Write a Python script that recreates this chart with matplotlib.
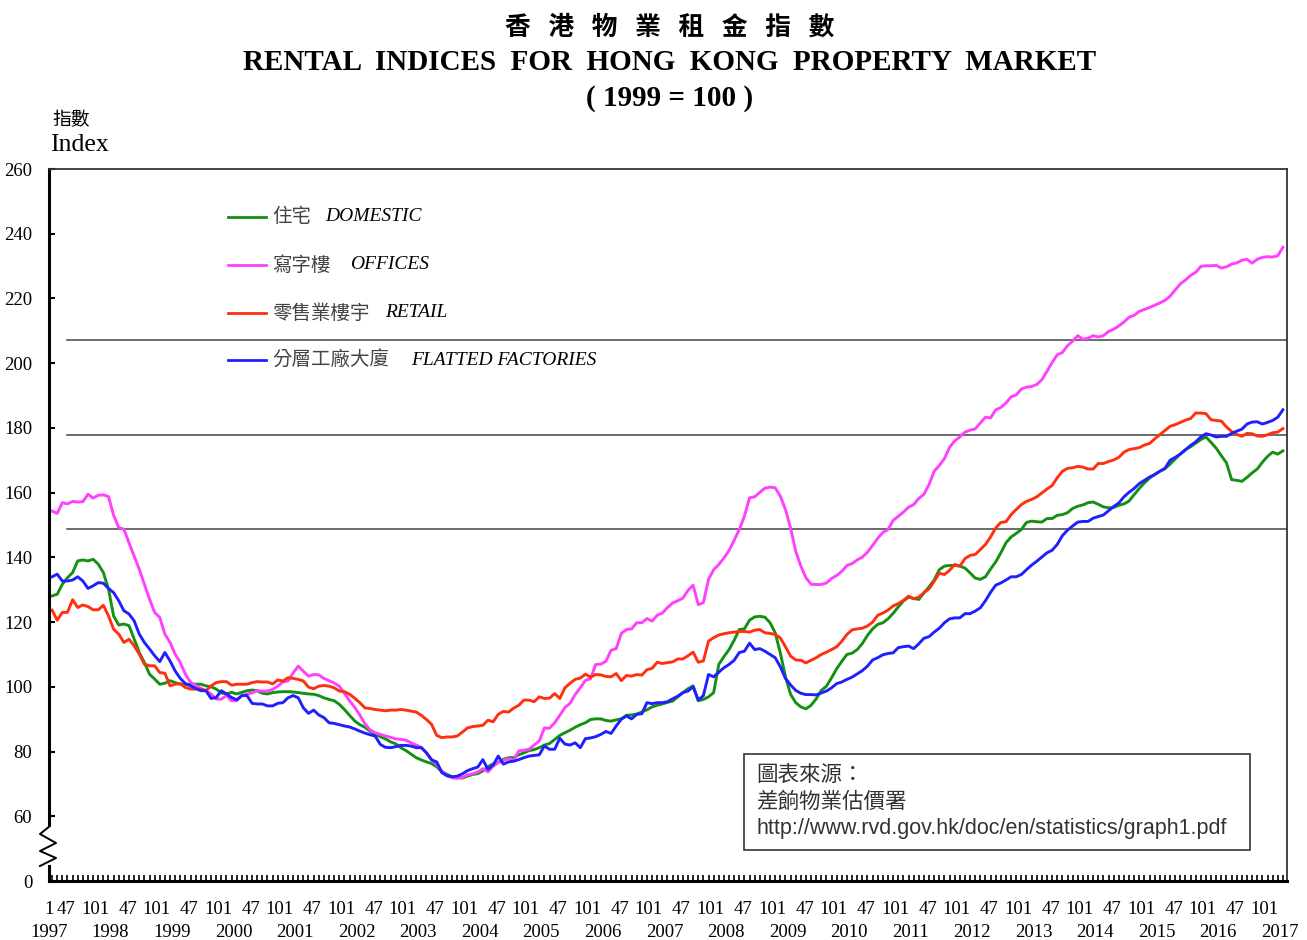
import numpy as np
import matplotlib.pyplot as plt
from matplotlib.lines import Line2D
from matplotlib.patches import Rectangle

plt.rcParams['font.family'] = ['Liberation Serif', 'Noto Sans CJK TC']

# monthly rental indices, Jan 1997 - Jan 2017 (1999 = 100)
domestic = [128.1, 128.6, 131.7, 133.7, 135.3, 138.9, 139.2, 138.9, 139.4, 137.9, 135.3, 130.2,
            121.9, 119.1, 119.4, 118.9, 114.8, 110.6, 107.5, 103.9, 102.4, 100.8, 101.1, 101.9,
            101.3, 100.8, 100.8, 100.8, 100.8, 100.8, 100.3, 100.0, 99.3, 98.1, 97.8, 98.3,
            97.8, 98.3, 98.8, 99.0, 98.8,
            98.0, 97.8, 98.2, 98.4, 98.5, 98.5, 98.4, 98.2, 98.0, 97.8, 97.7, 97.3, 96.6, 96.1, 95.7,
            94.6, 93.0, 91.2, 89.5, 88.3, 87.5, 86.3, 85.4, 84.6, 83.9, 83.0, 82.4, 81.2, 80.3, 79.2,
            78.1, 77.4, 76.8, 76.3, 75.3, 73.7, 73.0,
            72.2, 72.0, 71.8, 72.4, 72.9, 73.2, 74.0, 75.3, 76.2, 76.6, 77.6, 78.1, 78.1, 79.0, 79.6,
            80.3, 80.6, 81.2, 82.0, 82.5, 83.7, 85.0, 85.8, 86.6, 87.5, 88.3, 88.9, 89.9, 90.1, 90.1,
            89.6, 89.4, 89.8, 90.1, 91.2, 91.3, 91.6, 92.2, 92.9,
            93.8, 94.3, 94.7, 95.2, 95.6, 96.9, 98.2, 99.4, 100.3, 95.7, 96.1, 96.9, 98.2, 106.9, 109.3,
            111.5, 114.4, 117.7, 117.9, 120.6, 121.6, 121.8, 121.5, 119.8, 116.7, 110.5, 103.1, 97.7,
            95.1, 93.8, 93.2, 94.3, 96.3, 98.9, 100.2, 102.8, 105.6, 107.9, 110.0,
            110.4, 111.5, 113.4, 115.9, 117.9, 119.3, 119.8, 121.0, 122.7, 124.7, 126.5, 127.7, 127.3,
            127.0, 129.0, 130.9, 133.0, 136.2, 137.3, 137.5, 137.5, 137.3, 136.7, 135.2, 133.6, 133.2,
            134.0, 136.4, 138.6, 141.4, 144.5, 146.3, 147.4, 148.6, 150.8, 151.2, 151.0, 150.9, 152.0,
            152.0, 153.0, 153.2, 153.8, 155.1, 155.8, 156.2, 156.9, 157.1, 156.4, 155.6, 155.3, 155.4,
            156.1, 156.5, 157.4, 159.4, 161.3, 163.0, 164.5, 165.6, 166.6, 167.4, 168.8, 170.4, 172.0,
            173.3, 174.2, 175.3, 176.4, 177.2, 175.5, 173.7, 171.4, 169.2, 164.0, 163.8, 163.5, 164.7,
            166.1, 167.3, 169.4, 171.2, 172.5, 171.9, 172.9]

offices = [154.3, 153.6, 156.9, 156.5, 157.3, 157.1, 157.2, 159.5, 158.3, 159.2, 159.3, 158.8,
           153.0, 149.2, 148.7, 144.5, 140.4, 136.3, 131.7, 127.1, 123.0, 121.4, 116.3, 113.7,
           110.1, 107.5, 103.9, 101.4, 100.4, 99.5, 98.8, 97.8, 96.2, 96.2, 97.3, 95.7,
           95.7, 97.3, 97.8, 98.1, 98.8,
           98.7, 98.7, 99.2, 100.2, 101.5, 101.8, 104.3, 106.4, 104.8, 103.3, 103.8, 103.7, 102.6,
           101.9, 101.2, 100.2, 98.0, 95.7, 93.7, 91.3, 88.6, 86.7, 85.8, 85.3, 84.8, 84.4, 83.9,
           83.8, 83.5, 82.7, 82.0, 81.3, 79.6, 77.6, 76.0, 74.0, 72.6,
           71.9, 71.7, 72.0, 72.8, 73.1, 73.7, 74.7, 73.7, 75.5, 76.6, 77.3, 77.8, 77.3, 80.2, 80.4,
           80.7, 82.0, 83.3, 87.3, 87.2, 88.9, 91.2, 93.6, 94.9, 97.6, 99.7, 102.0, 102.5, 106.9,
           107.0, 107.9, 111.3, 111.8, 116.5, 117.7, 117.9, 119.8, 119.8, 121.1,
           120.3, 122.1, 122.8, 124.5, 125.9, 126.6, 127.4, 129.8, 131.4, 125.4, 126.0, 133.2, 136.2,
           137.8, 139.8, 142.1, 145.3, 148.6, 152.7, 158.4, 158.7, 160.1, 161.4, 161.7, 161.5, 158.9,
           154.8, 149.1, 141.9, 137.3, 133.7, 131.7, 131.6, 131.6, 132.1, 133.5, 134.4, 135.7, 137.5,
           138.1, 139.2, 140.1, 141.6, 143.7, 145.9, 147.7, 148.6, 151.4, 152.7, 154.0, 155.5, 156.3,
           158.2, 159.5, 162.5, 166.6, 168.4, 170.5, 174.0, 176.0, 177.2, 178.7, 179.3, 179.7, 181.5,
           183.3, 183.1, 185.6, 186.3, 187.7, 189.6, 190.2, 192.0, 192.6, 192.8, 193.4, 194.9, 197.5,
           200.2, 202.6, 203.3, 205.4, 206.8, 208.5, 207.4, 207.7, 208.5, 208.1, 208.5, 209.8, 210.5,
           211.5, 212.7, 214.2, 214.8, 216.0, 216.6, 217.2, 217.9, 218.6, 219.4, 220.7, 222.6, 224.5,
           225.7, 227.1, 228.1, 229.9, 230.1, 230.1, 230.2, 229.4, 229.8, 230.6, 231.0, 231.8, 232.1,
           230.9, 232.1, 232.7, 232.9, 232.8, 233.2, 235.8]

retail = [123.7, 120.6, 123.0, 123.0, 126.9, 124.5, 125.3, 124.8, 123.8, 123.8, 125.2, 121.9,
          117.8, 116.3, 113.7, 114.7, 112.7, 110.1, 107.0, 106.5, 106.5, 104.4, 104.2, 100.3,
          100.8, 101.0, 99.8, 99.3, 99.3, 99.3, 98.8, 100.3, 101.3, 101.6, 101.6, 100.5,
          100.8, 100.8, 100.8, 101.3, 101.6,
          101.5, 101.5, 100.9, 102.1, 101.8, 102.8, 102.6, 102.3, 101.8, 99.9, 99.4, 100.2, 100.4,
          100.2, 99.7, 98.7, 98.5, 97.7, 96.5, 95.1, 93.5, 93.3, 93.0, 92.8, 92.6, 92.8, 92.8,
          93.0, 92.8, 92.5, 92.2, 91.2, 89.9, 88.4, 85.0, 84.3, 84.5,
          84.5, 84.8, 86.0, 87.3, 87.7, 87.9, 88.1, 89.7, 89.2, 91.5, 92.4, 92.2, 93.4, 94.3, 95.9,
          95.9, 95.4, 96.9, 96.4, 96.5, 97.9, 96.4, 99.7, 101.1, 102.3, 102.7, 103.9, 103.0, 103.8,
          103.7, 103.2, 103.1, 104.1, 101.9, 103.5, 103.3, 103.8, 103.6, 105.3,
          105.7, 107.6, 107.2, 107.5, 107.7, 108.6, 108.6, 109.6, 110.7, 107.6, 108.0, 114.1, 115.2,
          116.0, 116.4, 116.7, 116.9, 117.1, 117.1, 116.9, 117.5, 117.7, 116.7, 116.5, 116.2, 115.1,
          112.4, 109.5, 108.3, 108.2, 107.4, 108.2, 109.0, 110.0, 110.7, 111.5, 112.4, 114.1, 116.2,
          117.6, 117.9, 118.1, 118.8, 120.0, 122.1, 122.8, 123.7, 125.0, 125.7, 126.7, 128.0, 127.2,
          127.7, 129.1, 130.3, 132.6, 135.1, 134.7, 136.0, 137.8, 137.3, 139.6, 140.6, 140.9, 142.4,
          144.0, 146.3, 149.1, 150.8, 151.0, 153.2, 154.8, 156.3, 157.3, 157.9, 158.7, 159.9, 161.1,
          162.2, 164.6, 166.6, 167.5, 167.7, 168.1, 167.9, 167.3, 167.3, 169.0, 169.0, 169.6, 170.1,
          170.9, 172.5, 173.3, 173.6, 173.9, 174.7, 175.2, 176.6, 177.9, 179.2, 180.5, 181.0, 181.7,
          182.4, 182.9, 184.6, 184.6, 184.4, 182.5, 182.3, 182.1, 180.3, 178.9, 178.0, 177.4, 178.3,
          178.2, 177.5, 177.4, 177.9, 178.5, 178.7, 179.8]

factories = [134.0, 134.8, 132.7, 132.7, 133.0, 134.0, 132.7, 130.4, 131.2, 132.2, 132.0, 130.4,
             129.1, 126.6, 123.5, 122.5, 120.4, 116.3, 113.7, 111.7, 109.6, 107.8, 110.6, 108.0,
             104.9, 102.6, 101.0, 100.3, 99.5, 98.8, 98.8, 96.4, 96.7, 98.8, 97.8, 96.7,
             96.0, 97.3, 97.3, 94.9, 94.7,
             94.7, 94.1, 94.1, 94.9, 95.1, 96.6, 97.3, 96.6, 93.5, 91.8, 92.8, 91.3, 90.5, 88.9, 88.7,
             88.3, 87.9, 87.6, 87.0, 86.3, 85.7, 85.2, 84.8, 82.2, 81.3, 81.2, 81.5, 81.9, 81.9, 81.7,
             81.2, 81.2, 79.6, 77.4, 76.8, 73.5, 72.5,
             72.2, 72.4, 73.1, 74.1, 74.7, 75.2, 77.5, 74.5, 75.8, 78.6, 76.1, 76.8, 77.0, 77.5, 78.1,
             78.6, 78.8, 79.0, 81.7, 80.7, 80.7, 84.1, 82.3, 82.0, 82.7, 81.2, 84.0, 84.2, 84.6, 85.3,
             86.2, 85.6, 87.9, 90.0, 91.0, 90.1, 91.5, 91.7, 95.1,
             94.8, 95.1, 95.1, 95.4, 96.3, 97.1, 98.2, 98.7, 100.0, 95.9, 97.3, 103.8, 103.1, 104.5,
             105.9, 106.9, 108.2, 110.6, 111.0, 113.5, 111.5, 111.8, 111.0, 110.0, 109.0, 106.2, 102.6,
             100.6, 98.9, 98.0, 97.6, 97.6, 97.5, 98.1, 98.7, 99.7, 101.0, 101.5, 102.3,
             103.0, 104.0, 105.0, 106.4, 108.3, 109.0, 109.9, 110.3, 110.5, 112.1, 112.4, 112.6, 111.8,
             113.3, 115.0, 115.5, 116.9, 118.1, 119.8, 121.0, 121.3, 121.3, 122.6, 122.6, 123.4, 124.4,
             126.6, 129.2, 131.4, 132.1, 133.0, 134.0, 134.0, 134.7, 136.2, 137.6, 138.8, 140.1, 141.4,
             142.2, 144.0, 146.7, 148.4, 149.7, 150.9, 151.1, 151.1, 152.1, 152.6, 153.1, 154.4, 155.7,
             156.8, 158.7, 160.1, 161.3, 162.8, 163.8, 164.8, 165.6, 166.6, 167.5, 170.0, 170.9, 171.9,
             173.2, 174.6, 175.7, 177.2, 178.2, 177.8, 177.2, 177.4, 177.4, 178.3, 179.0, 179.6, 181.2,
             181.8, 181.9, 181.2, 181.7, 182.3, 183.3, 185.6]

years = list(range(1997, 2018))
ref_levels = [207.2, 177.9, 148.9]
y_ticks = [40, 60, 80, 100, 120, 140, 160, 180, 200, 220, 240, 260]
y_labels = ['0', '60', '80', '100', '120', '140', '160', '180', '200', '220', '240', '260']

series = [
    (domestic, '#149014', '住宅', 'DOMESTIC', 0.2229),
    (offices, '#ff40ff', '寫字樓', 'OFFICES', 0.2431),
    (retail, '#ff3010', '零售業樓宇', 'RETAIL', 0.2714),
    (factories, '#2020ff', '分層工廠大廈', 'FLATTED FACTORIES', 0.2924),
]

months = np.arange(len(domestic))

fig = plt.figure(figsize=(13.07, 9.4), dpi=100)
ax = fig.add_axes([49 / 1307, 59 / 940, 1238 / 1307, 712 / 940])

for vals, col, zh, en, ex in series:
    ax.plot(months, vals, color=col, lw=2.1, solid_joinstyle='round')

for lv in ref_levels:
    ax.axhline(lv, xmin=0.0145, xmax=1, color='#444444', lw=1.1, zorder=0)

ax.set_xlim(-0.6, 240.8)
ax.set_ylim(40, 260)

# axes frame with a break near the bottom of the y axis
for s in ['top', 'right']:
    ax.spines[s].set_linewidth(1.3)
    ax.spines[s].set_color('#333333')
ax.spines['bottom'].set_linewidth(2.2)
ax.spines['left'].set_linewidth(2.2)
ax.spines['left'].set_bounds(57.5, 260)
ax.add_line(Line2D([0, 0], [0, 15 / 712], transform=ax.transAxes, color='black',
                   lw=2.2, clip_on=False))
zig_x = np.array([50, 40, 56, 40, 56, 40]) - 49
zig_y = 881 - np.array([826, 834, 843, 851, 858, 866])
ax.add_line(Line2D(zig_x / 1238, zig_y / 712, transform=ax.transAxes, color='black',
                   lw=1.4, clip_on=False))

ax.set_xticks(months)
ax.tick_params(axis='x', direction='in', length=4, width=1.2, labelbottom=False)
ax.set_yticks(y_ticks, y_labels)
ax.tick_params(axis='y', direction='in', length=4, width=1.5, pad=12, labelsize=13.5)

# month / year labels under the axis
tr = ax.get_xaxis_transform()
fs = 13.5
ax.text(-0.6, -0.0407, '1', transform=tr, ha='center', va='center', fontsize=fs)
for k, yr in enumerate(years):
    ax.text(12 * k - 0.6, -0.0730, str(yr), transform=tr, ha='center', va='center', fontsize=fs)
    if yr < 2017:
        ax.text(12 * k + 2.73, -0.0407, '47', transform=tr, ha='center', va='center', fontsize=fs)
        ax.text(12 * k + 8.38, -0.0407, '101', transform=tr, ha='center', va='center', fontsize=fs)

# legend
legend_y = [0.9326, 0.8652, 0.7978, 0.7317]
for (vals, col, zh, en, ex), ly in zip(series, legend_y):
    ax.add_line(Line2D([0.1446, 0.1753], [ly, ly], transform=ax.transAxes, color=col, lw=2))
    ax.text(0.1801, ly, zh, transform=ax.transAxes, va='center', fontsize=14,
            color='#444444', family='Noto Sans CJK TC')
    ax.text(ex, ly, en, transform=ax.transAxes, va='center', fontsize=14, style='italic')

# source box
ax.add_patch(Rectangle((0.5614, 0.0435), 0.4087, 0.1348, transform=ax.transAxes,
                       fill=False, edgecolor='#333333', lw=1.2))
src = ['圖表來源：', '差餉物業估價署', 'http://www.rvd.gov.hk/doc/en/statistics/graph1.pdf']
for line, sy in zip(src, [0.1475, 0.111, 0.0744]):
    ax.text(0.5711, sy, line, transform=ax.transAxes, va='center', fontsize=15.5,
            color='#333333', family=['Liberation Sans', 'Noto Sans CJK TC'])

# titles
fig.text(0.5126, 0.9713, '   '.join('香港物業租金指數'), ha='center', va='center', fontsize=18.5,
         weight='bold', family='Noto Sans CJK TC')
fig.text(0.5126, 0.934, 'RENTAL  INDICES  FOR  HONG  KONG  PROPERTY  MARKET', ha='center',
         va='center', fontsize=21, weight='bold')
fig.text(0.5126, 0.8957, '( 1999 = 100 )', ha='center', va='center', fontsize=21, weight='bold')
fig.text(0.0398, 0.8723, '指數', ha='left', va='center', fontsize=13.5, family='Noto Sans CJK TC')
fig.text(0.0383, 0.8457, 'Index', ha='left', va='center', fontsize=18.5)

fig.savefig('out.png', dpi=100)
